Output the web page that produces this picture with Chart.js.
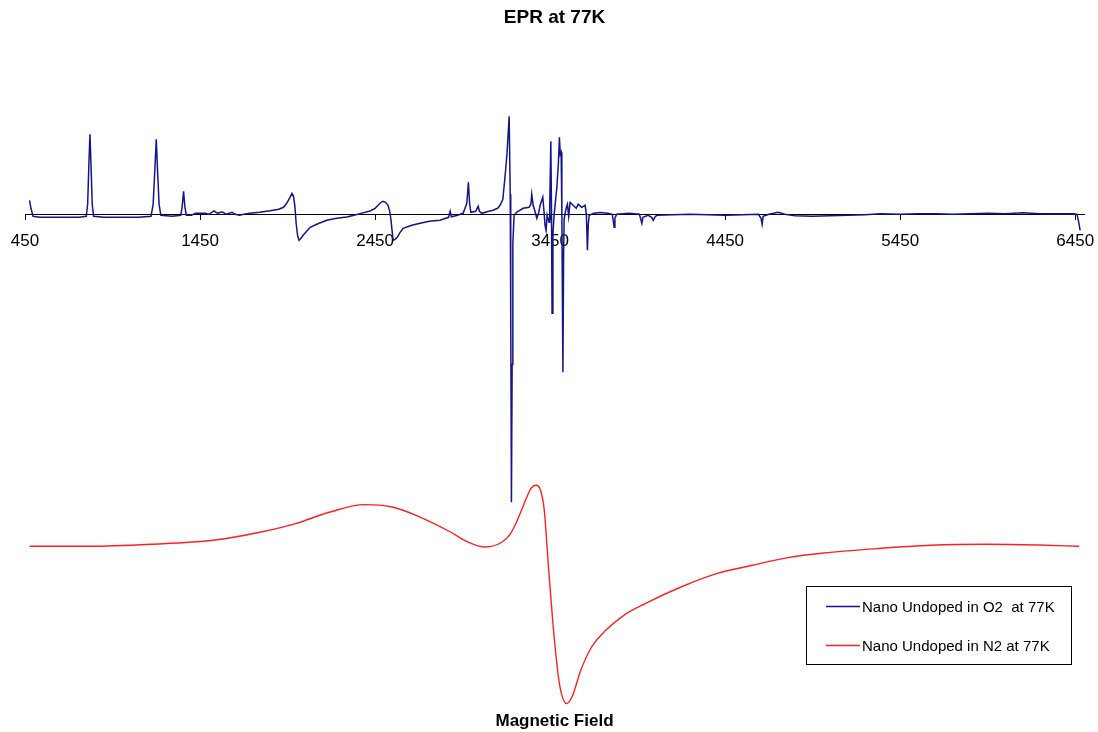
<!DOCTYPE html>
<html>
<head>
<meta charset="utf-8">
<title>EPR at 77K</title>
<script src="https://cdn.jsdelivr.net/npm/chart.js@4/dist/chart.umd.min.js"></script>
<style>
  html, body { margin: 0; padding: 0; background: #ffffff; }
  #wrap { width: 1098px; height: 732px; }
</style>
</head>
<body>
<div id="wrap"><canvas id="epr" width="1098" height="732"></canvas></div>
<script>
// Magnetic field tick positions shown on the axis
const tickFields = [450, 1450, 2450, 3450, 4450, 5450, 6450];

// Series labels
const seriesLabels = ['Nano Undoped in O2  at 77K', 'Nano Undoped in N2 at 77K'];

// Nano undoped sample in O2: field and signal (arbitrary units)
const fieldO2 = [
  476, 484, 496, 536, 650, 760, 800, 808, 815, 821, 827, 834, 842, 900, 1000, 1100,
  1170, 1182, 1192, 1200, 1207, 1216, 1226, 1290, 1340, 1348, 1356, 1363, 1372, 1400,
  1425, 1450, 1480, 1500, 1530, 1550, 1576, 1600, 1633, 1650, 1676, 1700, 1734, 1790,
  1850, 1900, 1927, 1945, 1964, 1975, 1984, 1992, 1999, 2008, 2016, 2027, 2039, 2079,
  2130, 2174, 2230, 2288, 2330, 2364, 2421, 2450, 2467, 2484, 2496, 2510, 2524, 2535,
  2541, 2547, 2553, 2564, 2576, 2593, 2610, 2660, 2707, 2760, 2821, 2870, 2879, 2886,
  2920, 2953, 2968, 2974, 2983, 2990, 2997, 3025, 3039, 3046, 3060, 3100, 3124, 3150,
  3164, 3180, 3193, 3203, 3216, 3222, 3225, 3229, 3233, 3237, 3244, 3260, 3296, 3330,
  3340, 3345, 3353, 3365, 3374, 3385, 3393, 3408, 3415, 3421, 3427, 3433, 3444, 3448,
  3454, 3458, 3461, 3466, 3473, 3488, 3497, 3503, 3508, 3513, 3517, 3523, 3527, 3530,
  3540, 3549, 3556, 3564, 3581, 3599, 3610, 3631, 3650, 3657, 3663, 3668, 3673, 3700,
  3736, 3780, 3805, 3812, 3816, 3820, 3830, 3900, 3960, 3968, 3974, 3980, 4010, 4030,
  4039, 4048, 4060, 4150, 4250, 4350, 4450, 4550, 4640, 4655, 4661, 4667, 4700, 4753,
  4790, 4850, 4950, 5050, 5150, 5250, 5336, 5450, 5550, 5650, 5750, 5850, 5950, 6050,
  6150, 6250, 6350, 6440, 6460, 6470, 6478
];
const signalO2 = [
  14, 6, -2, -3, -3, -3, -2, 10, 50, 80, 50, 10, -2, -3, -3, -3,
  -2, 10, 45, 75, 45, 10, -1, -2, -1, 8, 23, 8, -1, -1,
  1, 1, 1, 0, 3.5, 1, 2.5, 0, 2, 0, -1, 0, 1, 2,
  3.5, 5, 7, 11, 17, 21, 18, 8, -9, -22, -26, -24, -21, -13,
  -9, -6, -4, -2.7, -1, 0.7, 3.3, 6, 9, 12, 13, 12, 9, 2,
  -6, -16, -26, -25, -23, -18, -14, -11, -9, -7, -6, -3, 3, -2.5,
  -1, 1, 8, 11, 32, 11, 2, 3, 8, 3, 1, 3, 4, 6,
  9, 15, 39, 59, 98, 20, -100, -288, -150, -30, -1, 2.3, 6, 7,
  10, 20, 9, 2, -4, 2, 9, 17, 3, -11, -16, -1, -8, 10,
  73, 0, -99, -20, 0, 26, 50, 77, 60, 62, 0, -158, -40, -5,
  5, 10, -2, 12, 9, 6, 10, 7, 9, 0, -36, -10, -1, 1,
  1.7, 1, 0, -8, -13, -4, 0, 1, 0, -5, -9, -3, -1, -3,
  -6, -3, -1, -0.5, 0, -0.5, -1, -0.5, 0, -4, -10, -2, 0, 2,
  0, -1.5, -2, -1.5, -1, -0.5, 0.5, 0, 0.5, 0.5, 0, 0.5, 1, 0.5,
  1.5, 0.5, 0.5, 0.5, 0, -8, -16
];

// Nano undoped sample in N2: field and signal (arbitrary units, offset trace)
const fieldN2 = [
  476, 815, 1169, 1523, 1799, 1996, 2193, 2389, 2547, 2684, 2881, 2980, 3078, 3176,
  3221, 3255, 3284, 3314, 3341, 3369, 3393, 3416, 3442, 3473, 3503, 3544, 3575, 3625,
  3687, 3768, 3871, 3993, 4197, 4401, 4604, 4809, 5013, 5319, 5625, 5932, 6238, 6473
];
const signalN2 = [
  -332, -332, -330, -326, -317.7, -309.3, -297.7, -290.3, -292.7, -301, -317.7, -327.7, -332.7, -327.7,
  -320, -309, -297, -284, -274, -271, -275, -295, -356, -422.7, -469.3, -489.3, -482.7, -456,
  -432.7, -416, -401, -389.3, -372.7, -359.3, -351, -343.3, -338.7, -334.3, -331, -330, -330.7, -332
];

const toPoints = (xs, ys) => xs.map((x, i) => ({ x: x, y: ys[i] }));

// Boxed legend drawn at the lower right of the plot
const boxedLegend = {
  id: 'boxedLegend',
  afterDraw(chart) {
    const ctx = chart.ctx;
    const area = chart.chartArea;
    const w = 265, h = 78;
    const left = area.right - 13 - w;
    const top = 586;
    ctx.save();
    ctx.fillStyle = '#ffffff';
    ctx.fillRect(left, top, w, h);
    ctx.strokeStyle = '#000000';
    ctx.lineWidth = 1;
    ctx.strokeRect(Math.round(left) + 0.5, top + 0.5, w, h);
    ctx.font = '15px "Liberation Sans", Arial, sans-serif';
    ctx.textBaseline = 'middle';
    ctx.fillStyle = '#000000';
    chart.data.datasets.forEach((ds, i) => {
      const y = top + 20.5 + i * 39;
      ctx.strokeStyle = ds.borderColor;
      ctx.lineWidth = 1.5;
      ctx.beginPath();
      ctx.moveTo(left + 20, y);
      ctx.lineTo(left + 54, y);
      ctx.stroke();
      ctx.fillText(ds.label, left + 56, y + 1);
    });
    ctx.restore();
  }
};

new Chart(document.getElementById('epr'), {
  type: 'line',
  data: {
    datasets: [
      {
        label: seriesLabels[0],
        data: toPoints(fieldO2, signalO2),
        borderColor: '#14148c',
        borderWidth: 1.5,
        pointRadius: 0,
        tension: 0,
        fill: false
      },
      {
        label: seriesLabels[1],
        data: toPoints(fieldN2, signalN2),
        borderColor: '#ff2020',
        borderWidth: 1.4,
        pointRadius: 0,
        cubicInterpolationMode: 'monotone',
        fill: false
      }
    ]
  },
  options: {
    responsive: false,
    animation: false,
    layout: { padding: { left: 25, right: 14, top: 0, bottom: 0 } },
    plugins: {
      legend: { display: false },
      tooltip: { enabled: false },
      title: {
        display: true,
        text: 'EPR at 77K',
        color: '#000000',
        font: { family: '"Liberation Sans", Arial, sans-serif', size: 19, weight: 'bold' },
        padding: { top: 6, bottom: 10 }
      }
    },
    scales: {
      x: {
        type: 'linear',
        min: 450,
        max: 6500,
        position: { y: 0 },
        afterBuildTicks: (scale) => { scale.ticks = tickFields.map(v => ({ value: v })); },
        afterFit: (scale) => { scale.paddingLeft = 0; scale.paddingRight = 0; },
        grid: { drawOnChartArea: false, drawTicks: true, tickLength: 5, color: '#000000', lineWidth: 1 },
        border: { display: true, color: '#000000', width: 1 },
        ticks: {
          color: '#000000',
          autoSkip: false,
          maxRotation: 0,
          padding: 12,
          font: { family: '"Liberation Sans", Arial, sans-serif', size: 17 },
          callback: (v) => String(v)
        }
      },
      xTitle: {
        type: 'linear',
        position: 'bottom',
        display: true,
        ticks: { display: false },
        grid: { display: false, drawTicks: false },
        border: { display: false },
        title: {
          display: true,
          text: 'Magnetic Field',
          color: '#000000',
          font: { family: '"Liberation Sans", Arial, sans-serif', size: 17, weight: 'bold' },
          padding: { top: 3, bottom: 0 }
        }
      },
      y: {
        type: 'linear',
        min: -494.3,
        max: 175.5,
        display: false
      }
    }
  },
  plugins: [boxedLegend]
});
</script>
</body>
</html>
